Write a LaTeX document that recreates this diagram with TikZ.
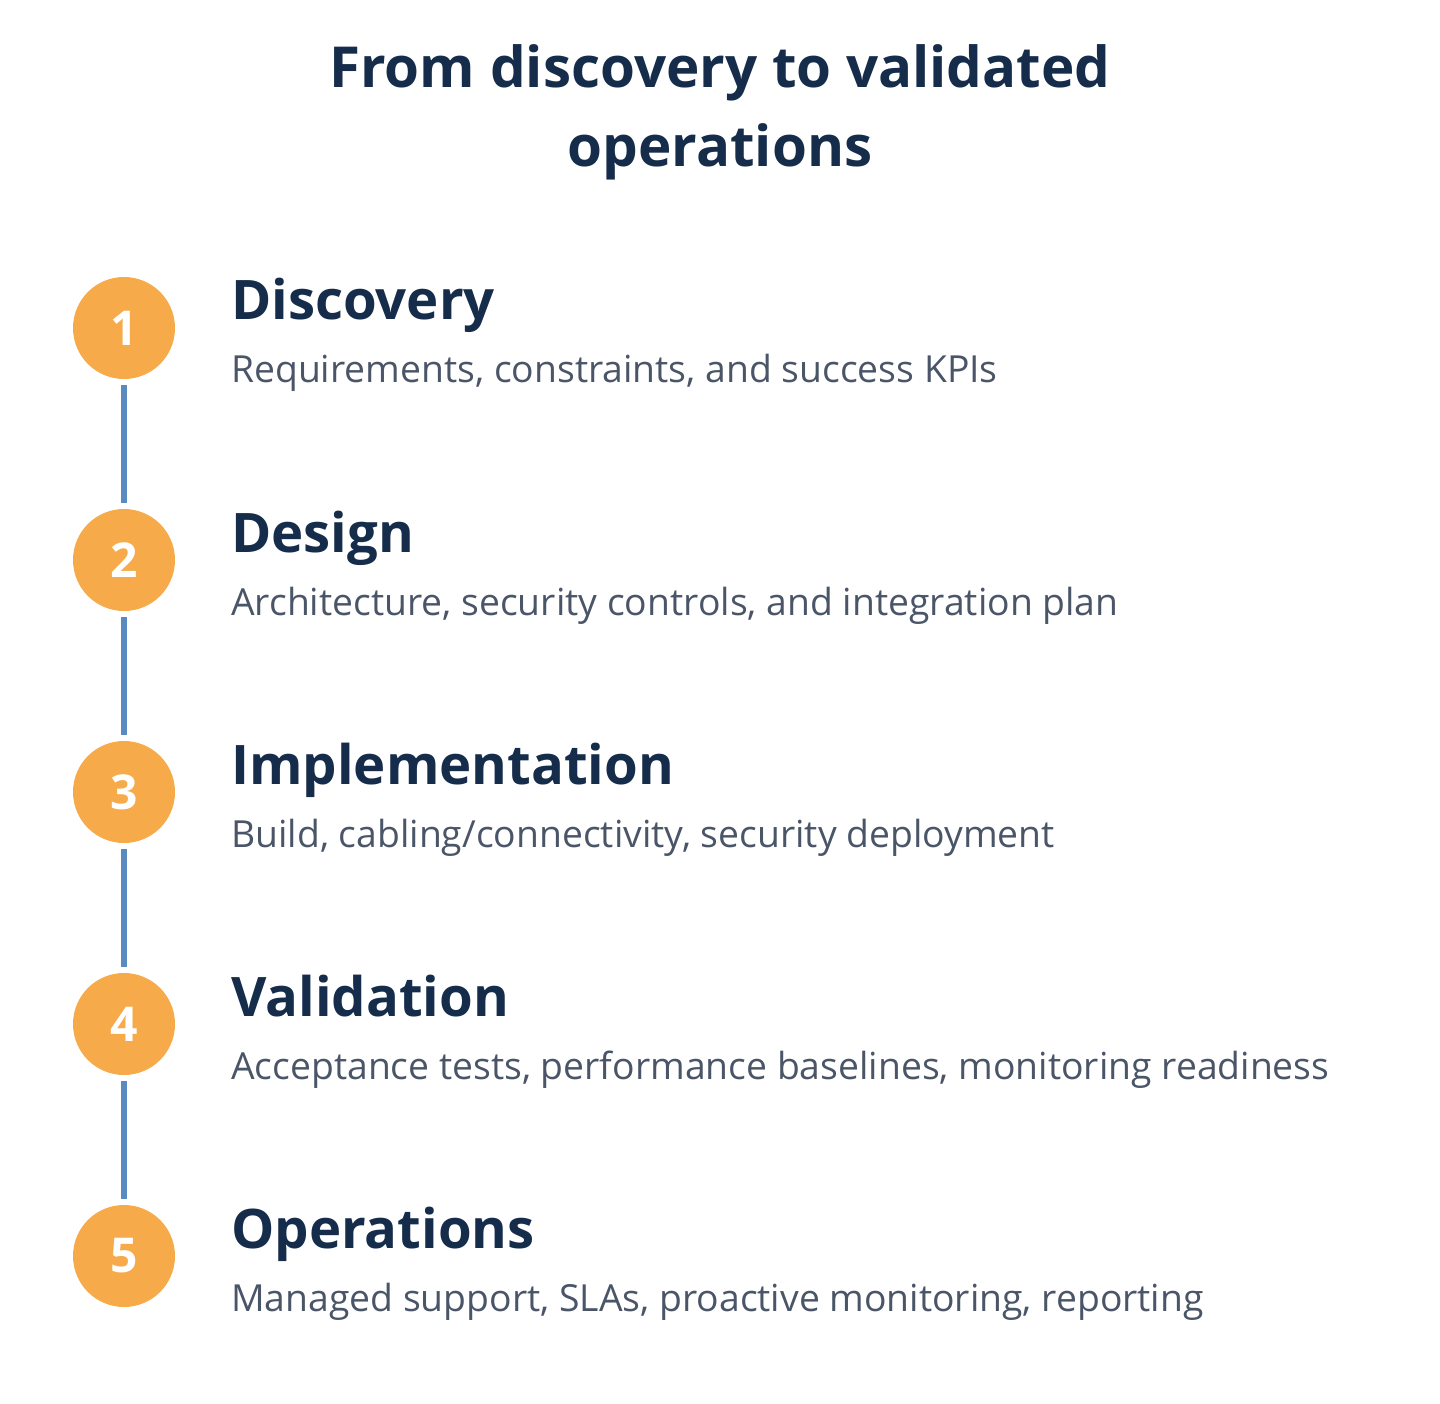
\documentclass[tikz,border=0pt]{standalone}
\usepackage{fontspec}
\setmainfont{Open Sans}
\definecolor{navy}{HTML}{152C4A}
\definecolor{subgrey}{HTML}{4A5568}
\definecolor{stepor}{HTML}{F6AA4A}
\definecolor{linkblue}{HTML}{5B8AC0}
\begin{document}
\begin{tikzpicture}[x=1pt,y=-1pt,
  stepcirc/.style={circle,fill=stepor,minimum size=102pt,inner sep=0pt,text=white,font=\fontsize{48}{48}\selectfont\bfseries},
  heading/.style={anchor=base west,inner sep=0pt,text=navy,font=\fontsize{54.5}{54.5}\selectfont\bfseries},
  subtext/.style={anchor=base west,inner sep=0pt,text=subgrey,font=\fontsize{37.3}{37.3}\selectfont},
  titletext/.style={anchor=base,inner sep=0pt,text=navy,font=\fontsize{56.5}{56.5}\selectfont\bfseries},
  link/.style={draw=linkblue,line width=6pt,shorten <=6pt,shorten >=6pt}]
\useasboundingbox (0,0) rectangle (1440,1404);
\node[titletext] (t1) at (720,88) {From discovery to validated};
\node[titletext] (t2) at (720,167) {operations};
\foreach \i/\h/\s in {1/Discovery/{Requirements, constraints, and success KPIs},
  2/Design/{Architecture, security controls, and integration plan},
  3/Implementation/{Build, cabling/connectivity, security deployment},
  4/Validation/{Acceptance tests, performance baselines, monitoring readiness},
  5/Operations/{Managed support, SLAs, proactive monitoring, reporting}}{
  \node[stepcirc] (c\i) at (124,{328+232*(\i-1)}) {\i};
  \node[heading] (h\i) at (231,{320+232*(\i-1)}) {\h};
  \node[subtext] (s\i) at (231,{383+232*(\i-1)}) {\s};
}
\foreach \a/\b in {1/2,2/3,3/4,4/5}{\draw[link] (c\a) -- (c\b);}
\end{tikzpicture}
\end{document}
